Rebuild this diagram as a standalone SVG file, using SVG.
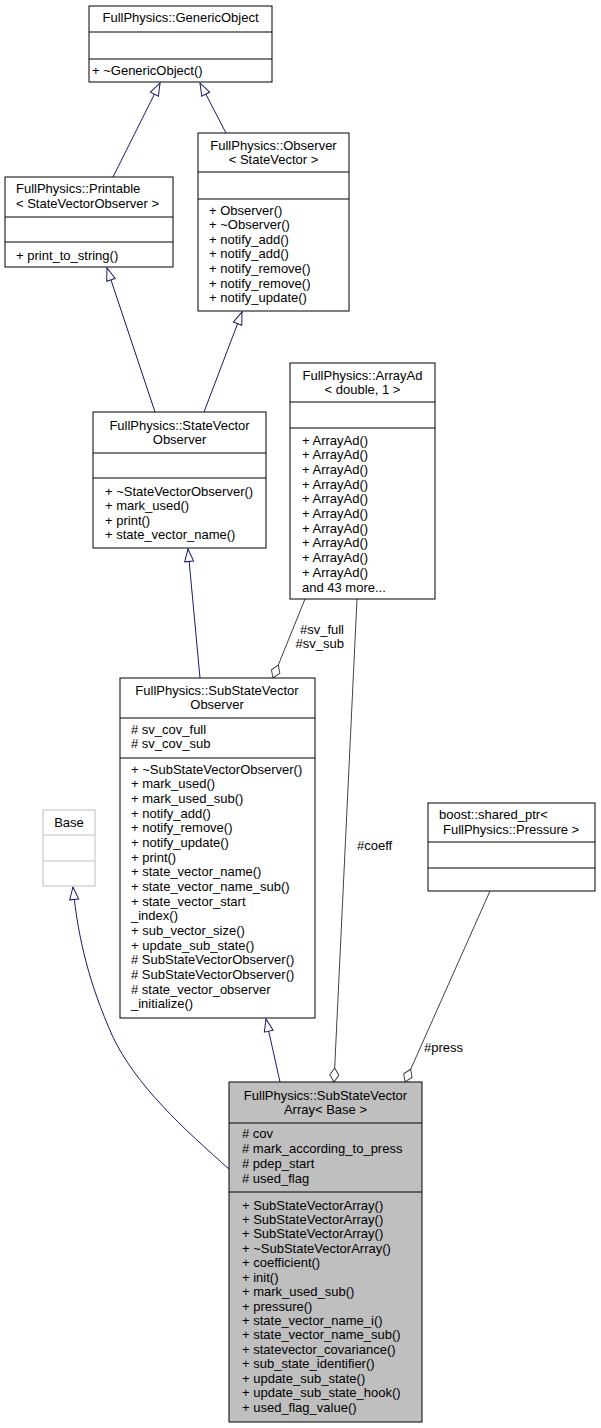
<svg xmlns="http://www.w3.org/2000/svg" width="601" height="1428" viewBox="0 0 601 1428">
<style>
text{font-family:"Liberation Sans",Arial,Helvetica,sans-serif;font-size:13px;fill:#000}
.c{text-anchor:middle}
.e{text-anchor:end}
.box{fill:#fff;stroke:#000;stroke-width:1}
.dv{stroke:#000;stroke-width:1}
.gbox{fill:#fff;stroke:#bfbfbf;stroke-width:1}
.gdv{stroke:#bfbfbf;stroke-width:1}
.hbox{fill:#bfbfbf;stroke:#000;stroke-width:1}
.inh{stroke:#191970;fill:none;stroke-width:1}
.agg{stroke:#404040;fill:none;stroke-width:1}
</style>
<defs>
<marker id="tri" viewBox="0 0 13 10" refX="13" refY="5" markerWidth="13" markerHeight="10" orient="auto" markerUnits="userSpaceOnUse" overflow="visible">
<path d="M0.5,0.5 L13,5 L0.5,9.5 Z" fill="#fff" stroke="#191970" stroke-width="1"/>
</marker>
<marker id="dia" viewBox="0 0 14 10" refX="14" refY="5" markerWidth="14" markerHeight="10" orient="auto" markerUnits="userSpaceOnUse" overflow="visible">
<path d="M0,5 L7,0.5 L14,5 L7,9.5 Z" fill="#fff" stroke="#404040" stroke-width="1"/>
</marker>
</defs>

<g id="connectors">
<path class="inh" d="M113,177 L160,83" marker-end="url(#tri)"/>
<path class="inh" d="M226,133 L200,83" marker-end="url(#tri)"/>
<path class="inh" d="M155,412 L107,268" marker-end="url(#tri)"/>
<path class="inh" d="M204,412 L242,312" marker-end="url(#tri)"/>
<path class="inh" d="M200,678 L188,549" marker-end="url(#tri)"/>
<path class="inh" d="M280,1082 L266,1019" marker-end="url(#tri)"/>
<path class="inh" d="M229,1169 C185,1130 135,1085 112,1035 C90,985 78,940 73,887" marker-end="url(#tri)"/>
<path class="agg" d="M305,599 L273,678" marker-end="url(#dia)"/>
<path class="agg" d="M357,599 L334,1082" marker-end="url(#dia)"/>
<path class="agg" d="M490,891 L405,1082" marker-end="url(#dia)"/>
<text class="e" x="344" y="634">#sv_full</text>
<text class="e" x="344" y="648">#sv_sub</text>
<text x="357" y="850">#coeff</text>
<text x="424" y="1052">#press</text>
</g>

<g id="GenericObject">
<rect class="box" x="89" y="6" width="183" height="76"/>
<line class="dv" x1="89" y1="32" x2="272" y2="32"/>
<line class="dv" x1="89" y1="59" x2="272" y2="59"/>
<text class="c" x="180.5" y="22">FullPhysics::GenericObject</text>
<text x="92" y="75">+ ~GenericObject()</text>
</g>

<g id="Printable">
<rect class="box" x="5" y="177" width="168" height="90"/>
<line class="dv" x1="5" y1="217" x2="173" y2="217"/>
<line class="dv" x1="5" y1="242" x2="173" y2="242"/>
<text x="16" y="192.5">FullPhysics::Printable</text>
<text x="16" y="207.5">&lt; StateVectorObserver &gt;</text>
<text x="16" y="259.5">+ print_to_string()</text>
</g>

<g id="Observer">
<rect class="box" x="198" y="133" width="151" height="178"/>
<line class="dv" x1="198" y1="172" x2="349" y2="172"/>
<line class="dv" x1="198" y1="199" x2="349" y2="199"/>
<text class="c" x="273.5" y="149.5">FullPhysics::Observer</text>
<text class="c" x="273.5" y="163.5">&lt; StateVector &gt;</text>
<text x="209" y="214.5">+ Observer()</text>
<text x="209" y="229.1">+ ~Observer()</text>
<text x="209" y="243.7">+ notify_add()</text>
<text x="209" y="258.3">+ notify_add()</text>
<text x="209" y="272.9">+ notify_remove()</text>
<text x="209" y="287.5">+ notify_remove()</text>
<text x="209" y="302.1">+ notify_update()</text>
</g>

<g id="StateVectorObserver">
<rect class="box" x="93" y="412" width="173" height="136"/>
<line class="dv" x1="93" y1="453" x2="266" y2="453"/>
<line class="dv" x1="93" y1="478" x2="266" y2="478"/>
<text class="c" x="179.5" y="429.5">FullPhysics::StateVector</text>
<text class="c" x="179.5" y="443.5">Observer</text>
<text x="105" y="495.5">+ ~StateVectorObserver()</text>
<text x="105" y="510.1">+ mark_used()</text>
<text x="105" y="524.7">+ print()</text>
<text x="105" y="539.3">+ state_vector_name()</text>
</g>

<g id="ArrayAd">
<rect class="box" x="290" y="363" width="145" height="236"/>
<line class="dv" x1="290" y1="402" x2="435" y2="402"/>
<line class="dv" x1="290" y1="428" x2="435" y2="428"/>
<text class="c" x="362.5" y="379.5">FullPhysics::ArrayAd</text>
<text class="c" x="362.5" y="393.5">&lt; double, 1 &gt;</text>
<text x="302" y="444.5">+ ArrayAd()</text>
<text x="302" y="459.2">+ ArrayAd()</text>
<text x="302" y="473.9">+ ArrayAd()</text>
<text x="302" y="488.6">+ ArrayAd()</text>
<text x="302" y="503.3">+ ArrayAd()</text>
<text x="302" y="518">+ ArrayAd()</text>
<text x="302" y="532.7">+ ArrayAd()</text>
<text x="302" y="547.4">+ ArrayAd()</text>
<text x="302" y="562.1">+ ArrayAd()</text>
<text x="302" y="576.8">+ ArrayAd()</text>
<text x="302" y="591.5">and 43 more...</text>
</g>

<g id="SubStateVectorObserver">
<rect class="box" x="120" y="678" width="195" height="340"/>
<line class="dv" x1="120" y1="718" x2="315" y2="718"/>
<line class="dv" x1="120" y1="758" x2="315" y2="758"/>
<text class="c" x="217" y="694.5">FullPhysics::SubStateVector</text>
<text class="c" x="217" y="708.5">Observer</text>
<text x="131" y="733.5"># sv_cov_full</text>
<text x="131" y="748.2"># sv_cov_sub</text>
<text x="131" y="773.5">+ ~SubStateVectorObserver()</text>
<text x="131" y="788.2">+ mark_used()</text>
<text x="131" y="802.9">+ mark_used_sub()</text>
<text x="131" y="817.5">+ notify_add()</text>
<text x="131" y="832.2">+ notify_remove()</text>
<text x="131" y="846.9">+ notify_update()</text>
<text x="131" y="861.6">+ print()</text>
<text x="131" y="876.3">+ state_vector_name()</text>
<text x="131" y="890.9">+ state_vector_name_sub()</text>
<text x="131" y="905.6">+ state_vector_start</text>
<text x="131" y="920.3">_index()</text>
<text x="131" y="935">+ sub_vector_size()</text>
<text x="131" y="949.7">+ update_sub_state()</text>
<text x="131" y="964.3"># SubStateVectorObserver()</text>
<text x="131" y="979"># SubStateVectorObserver()</text>
<text x="131" y="993.7"># state_vector_observer</text>
<text x="131" y="1008.4">_initialize()</text>
</g>

<g id="Base">
<rect class="gbox" x="43" y="810" width="52" height="76"/>
<line class="gdv" x1="43" y1="835" x2="95" y2="835"/>
<line class="gdv" x1="43" y1="861" x2="95" y2="861"/>
<text class="c" x="69" y="826.5">Base</text>
</g>

<g id="SharedPtrPressure">
<rect class="box" x="428" y="803" width="167" height="88"/>
<line class="dv" x1="428" y1="842" x2="595" y2="842"/>
<line class="dv" x1="428" y1="868" x2="595" y2="868"/>
<text x="439" y="818.5">boost::shared_ptr&lt;</text>
<text x="443" y="833.5">FullPhysics::Pressure &gt;</text>
</g>

<g id="SubStateVectorArray">
<rect class="hbox" x="229" y="1082" width="193" height="340"/>
<line class="dv" x1="229" y1="1123" x2="422" y2="1123"/>
<line class="dv" x1="229" y1="1192" x2="422" y2="1192"/>
<text class="c" x="325.5" y="1099.5">FullPhysics::SubStateVector</text>
<text class="c" x="325.5" y="1113.5">Array&lt; Base &gt;</text>
<text x="242" y="1137.5"># cov</text>
<text x="242" y="1152.5"># mark_according_to_press</text>
<text x="242" y="1167.5"># pdep_start</text>
<text x="242" y="1182.5"># used_flag</text>
<text x="242" y="1209.5">+ SubStateVectorArray()</text>
<text x="242" y="1223.9">+ SubStateVectorArray()</text>
<text x="242" y="1238.4">+ SubStateVectorArray()</text>
<text x="242" y="1252.8">+ ~SubStateVectorArray()</text>
<text x="242" y="1267.2">+ coefficient()</text>
<text x="242" y="1281.7">+ init()</text>
<text x="242" y="1296.1">+ mark_used_sub()</text>
<text x="242" y="1310.5">+ pressure()</text>
<text x="242" y="1324.9">+ state_vector_name_i()</text>
<text x="242" y="1339.4">+ state_vector_name_sub()</text>
<text x="242" y="1353.8">+ statevector_covariance()</text>
<text x="242" y="1368.2">+ sub_state_identifier()</text>
<text x="242" y="1382.7">+ update_sub_state()</text>
<text x="242" y="1397.1">+ update_sub_state_hook()</text>
<text x="242" y="1411.5">+ used_flag_value()</text>
</g>
</svg>
